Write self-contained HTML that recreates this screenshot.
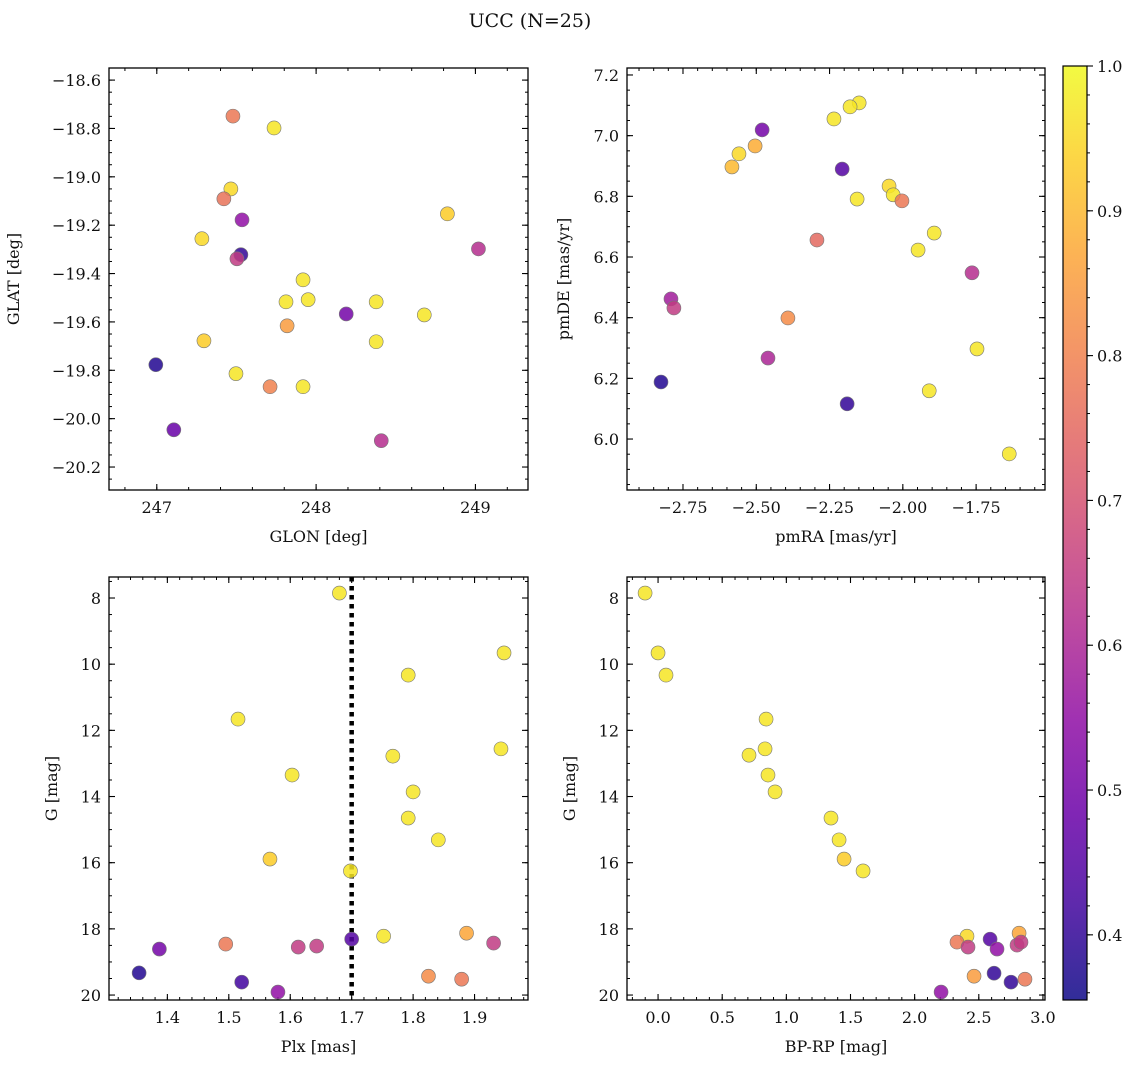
<!DOCTYPE html>
<html><head><meta charset="utf-8"><style>
body{margin:0;background:#fff;}
svg text{font-family:"DejaVu Serif","Liberation Serif",serif;fill:#111;}
</style></head><body>
<svg id="chart" width="1136" height="1067" viewBox="0 0 1136 1067" xmlns="http://www.w3.org/2000/svg">
<text x="530" y="27" font-size="19" text-anchor="middle">UCC (N=25)</text>
</svg>
<script>
// Panel 1: GLON vs GLAT
const glon=[247.478,247.736,247.465,247.421,247.535,247.283,247.528,247.503,248.824,249.019,247.918,247.811,247.950,248.377,248.189,248.679,247.818,247.296,248.377,247.497,246.994,247.711,247.918,247.107,248.409];
const glat=[-18.749,-18.798,-19.050,-19.091,-19.178,-19.256,-19.322,-19.339,-19.153,-19.298,-19.426,-19.517,-19.508,-19.517,-19.567,-19.571,-19.616,-19.678,-19.682,-19.814,-19.777,-19.868,-19.868,-20.046,-20.091];
const prob1=[0.78,0.97,0.95,0.77,0.55,0.95,0.40,0.65,0.93,0.62,0.97,0.97,0.97,0.97,0.50,0.97,0.85,0.93,0.97,0.97,0.38,0.80,0.97,0.48,0.62];
// Panel 2: pmRA vs pmDE
const pmra=[-2.149,-2.180,-2.235,-2.480,-2.504,-2.559,-2.583,-2.207,-2.047,-2.033,-2.156,-2.003,-1.893,-2.293,-1.948,-1.764,-2.791,-2.781,-2.392,-1.747,-2.460,-2.825,-1.910,-2.190,-1.637];
const pmde=[7.108,7.095,7.055,7.019,6.966,6.940,6.897,6.890,6.834,6.805,6.791,6.785,6.679,6.656,6.623,6.548,6.462,6.432,6.399,6.297,6.267,6.188,6.159,6.116,5.951];
const prob2=[0.97,0.97,0.97,0.50,0.88,0.95,0.90,0.45,0.95,0.97,0.97,0.78,0.97,0.75,0.97,0.62,0.58,0.65,0.82,0.97,0.60,0.38,0.97,0.40,0.97];
// Panel 3: Plx vs G
const plx=[1.680,1.948,1.792,1.515,1.943,1.767,1.603,1.800,1.792,1.841,1.567,1.698,1.752,1.887,1.931,1.495,1.613,1.643,1.700,1.387,1.354,1.825,1.879,1.521,1.580];
const gmag3=[7.85,9.66,10.33,11.66,12.56,12.78,13.35,13.86,14.65,15.31,15.89,16.25,18.22,18.13,18.43,18.46,18.55,18.52,18.31,18.61,19.33,19.43,19.52,19.61,19.91];
const prob3=[0.97,0.97,0.97,0.97,0.97,0.97,0.97,0.97,0.97,0.97,0.93,0.97,0.97,0.87,0.65,0.78,0.65,0.65,0.45,0.50,0.38,0.82,0.78,0.42,0.55];
const plxLine=[1.70];
// Panel 4: BP-RP vs G
const bprp=[-0.101,0.0,0.062,0.842,0.709,0.834,0.857,0.912,1.348,1.411,1.450,1.598,2.408,2.814,2.330,2.588,2.416,2.642,2.798,2.829,2.463,2.619,2.860,2.751,2.206];
const gmag4=[7.85,9.66,10.33,11.66,12.75,12.56,13.35,13.86,14.65,15.31,15.89,16.25,18.22,18.13,18.40,18.31,18.55,18.61,18.49,18.40,19.43,19.34,19.52,19.61,19.91];
const prob4=[0.97,0.97,0.97,0.97,0.97,0.97,0.97,0.97,0.97,0.97,0.93,0.97,0.95,0.87,0.78,0.45,0.65,0.55,0.65,0.65,0.85,0.40,0.78,0.40,0.55];
const cbTicks=[0.4,0.5,0.6,0.7,0.8,0.9,1.0];

const NS="http://www.w3.org/2000/svg";
const svg=document.getElementById('chart');
const VMIN=0.355,VMAX=1.0;
const stops=["#0d0887","#41049d","#6a00a8","#8f0da4","#b12a90","#cc4778","#e16462","#f2844b","#fca636","#fcce25","#f0f921"];
function hex(h){return [1,3,5].map(i=>parseInt(h.substr(i,2),16));}
function plasma(t){t=Math.max(0,Math.min(1,t));const s=t*10,i=Math.min(9,Math.floor(s)),f=s-i;const a=hex(stops[i]),b=hex(stops[i+1]);return 'rgb('+a.map((v,k)=>Math.round(v+(b[k]-v)*f)).join(',')+')';}
function cmap(v){return plasma((v-VMIN)/(VMAX-VMIN));}
function el(tag,attrs,parent){const e=document.createElementNS(NS,tag);for(const k in attrs)e.setAttribute(k,attrs[k]);(parent||svg).appendChild(e);return e;}
function fmt(v,d){let s=v.toFixed(d);if(v<0)s='\u2212'+s.substring(1);return s;}

function panel(o){
  const g=el('g',{});
  
  
  const sx=v=>o.x0+(v-o.xmin)/(o.xmax-o.xmin)*(o.x1-o.x0);
  const sy=o.inv?(v=>o.y0+(v-o.ymin)/(o.ymax-o.ymin)*(o.y1-o.y0)):(v=>o.y1-(v-o.ymin)/(o.ymax-o.ymin)*(o.y1-o.y0));
  const eps=1e-9;
  function ticksX(step){const out=[];for(let v=Math.ceil(o.xmin/step-eps)*step;v<=o.xmax+eps;v+=step)out.push(v);return out;}
  function ticksY(step){const lo=Math.min(o.ymin,o.ymax),hi=Math.max(o.ymin,o.ymax);const out=[];for(let v=Math.ceil(lo/step-eps)*step;v<=hi+eps;v+=step)out.push(v);return out;}
  ticksX(o.xminor).forEach(v=>{const x=sx(v);el('line',{x1:x,x2:x,y1:o.y1,y2:o.y1-3,stroke:'#000','stroke-width':1},g);el('line',{x1:x,x2:x,y1:o.y0,y2:o.y0+3,stroke:'#000','stroke-width':1},g);});
  ticksY(o.yminor).forEach(v=>{const y=sy(v);el('line',{x1:o.x0,x2:o.x0+3,y1:y,y2:y,stroke:'#000','stroke-width':1},g);el('line',{x1:o.x1,x2:o.x1-3,y1:y,y2:y,stroke:'#000','stroke-width':1},g);});
  ticksX(o.xmajor).forEach(v=>{const x=sx(v);el('line',{x1:x,x2:x,y1:o.y1,y2:o.y1-6,stroke:'#000','stroke-width':1.1},g);el('line',{x1:x,x2:x,y1:o.y0,y2:o.y0+6,stroke:'#000','stroke-width':1.1},g);
    const t=el('text',{x:x,y:o.y1+23,'font-size':16,'text-anchor':'middle'},g);t.textContent=fmt(v,o.xd);});
  ticksY(o.ymajor).forEach(v=>{const y=sy(v);el('line',{x1:o.x0,x2:o.x0+6,y1:y,y2:y,stroke:'#000','stroke-width':1.1},g);el('line',{x1:o.x1,x2:o.x1-6,y1:y,y2:y,stroke:'#000','stroke-width':1.1},g);
    const t=el('text',{x:o.x0-8,y:y+6,'font-size':16,'text-anchor':'end'},g);t.textContent=fmt(v,o.yd);});
  const xl=el('text',{x:(o.x0+o.x1)/2,y:o.y1+52,'font-size':16,'text-anchor':'middle'},g);
  
  
  xl.textContent=o.xlabel;
  const yl=el('text',{x:0,y:0,'font-size':16,'text-anchor':'middle',transform:'translate('+(o.x0-o.ylabOff)+','+((o.y0+o.y1)/2)+') rotate(-90)'},g);
  
  
  yl.textContent=o.ylabel;
  if(o.vline){o.vline.forEach(v=>{const l=el('line',{x1:sx(v),x2:sx(v),y1:o.y0,y2:o.y1,stroke:'#000','stroke-width':4.5,'stroke-dasharray':'4.5,4.5'},g);
    
    });}
  for(let i=0;i<o.xs.length;i++){
    const c=el('circle',{cx:sx(o.xs[i]),cy:sy(o.ys[i]),r:7,fill:cmap(o.cs[i]),'fill-opacity':0.85,stroke:'#777','stroke-width':0.6},g);
    
    
  }
  el('rect',{x:o.x0,y:o.y0,width:o.x1-o.x0,height:o.y1-o.y0,fill:'none',stroke:'#000','stroke-width':1.3},g);
}

panel({name:'glon-glat-panel',x0:109,x1:528,y0:68,y1:490,xmin:246.70,xmax:249.33,ymin:-20.295,ymax:-18.55,xmajor:1,xminor:0.2,ymajor:0.2,yminor:0.05,xd:0,yd:1,xlabel:'GLON [deg]',ylabel:'GLAT [deg]',ylabOff:90,xs:glon,ys:glat,cs:prob1});
panel({name:'pm-panel',x0:627,x1:1045,y0:68,y1:490,xmin:-2.941,xmax:-1.515,ymin:5.832,ymax:7.223,xmajor:0.25,xminor:0.05,ymajor:0.2,yminor:0.05,xd:2,yd:1,xlabel:'pmRA [mas/yr]',ylabel:'pmDE [mas/yr]',ylabOff:58,xs:pmra,ys:pmde,cs:prob2});
panel({name:'plx-g-panel',x0:109,x1:528,y0:577,y1:1000,xmin:1.305,xmax:1.987,ymin:7.365,ymax:20.15,inv:true,xmajor:0.1,xminor:0.02,ymajor:2,yminor:0.5,xd:1,yd:0,xlabel:'Plx [mas]',ylabel:'G [mag]',ylabOff:52,xs:plx,ys:gmag3,cs:prob3,vline:plxLine});
panel({name:'cmd-panel',x0:627,x1:1045,y0:577,y1:1000,xmin:-0.242,xmax:3.016,ymin:7.365,ymax:20.15,inv:true,xmajor:0.5,xminor:0.1,ymajor:2,yminor:0.5,xd:1,yd:0,xlabel:'BP-RP [mag]',ylabel:'G [mag]',ylabOff:52,xs:bprp,ys:gmag4,cs:prob4});

(function(){
  const cx0=1063,cx1=1087,cy0=66,cy1=1000;
  const g=el('g',{});
  
  
  const defs=el('defs',{},g);
  const lg=el('linearGradient',{id:'plg',x1:0,y1:1,x2:0,y2:0},defs);
  for(let i=0;i<=20;i++){el('stop',{offset:i/20,'stop-color':plasma(i/20),'stop-opacity':0.85},lg);}
  el('rect',{x:cx0,y:cy0,width:cx1-cx0,height:cy1-cy0,fill:'url(#plg)'},g);
  const sy=v=>cy1-(v-VMIN)/(VMAX-VMIN)*(cy1-cy0);
  for(let v=0.36;v<=1.0001;v+=0.02){const y=sy(v);el('line',{x1:cx1,x2:cx1+3,y1:y,y2:y,stroke:'#000','stroke-width':1},g);}
  cbTicks.forEach(v=>{const y=sy(v);el('line',{x1:cx1,x2:cx1+6,y1:y,y2:y,stroke:'#000','stroke-width':1.1},g);
    const t=el('text',{x:cx1+10,y:y+6,'font-size':16},g);t.textContent=v.toFixed(1);});
  el('rect',{x:cx0,y:cy0,width:cx1-cx0,height:cy1-cy0,fill:'none',stroke:'#000','stroke-width':1.2},g);
})();
</script>
</body></html>
